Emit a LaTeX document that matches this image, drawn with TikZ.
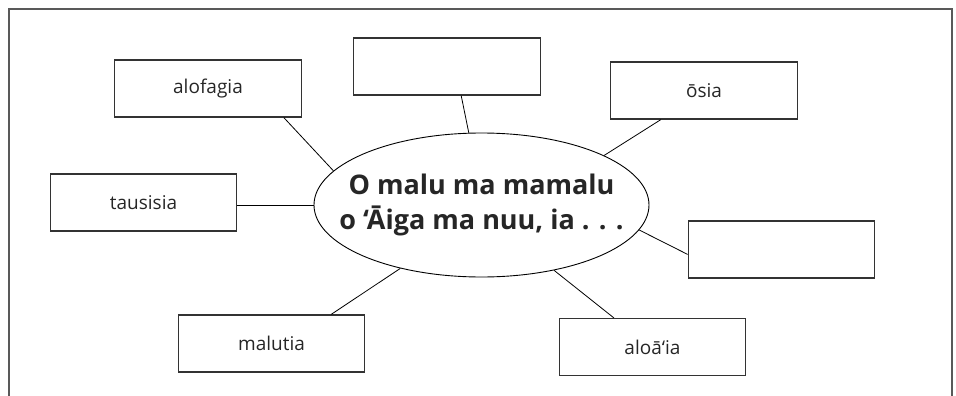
\documentclass[tikz,border=0pt]{standalone}
\usepackage{fontspec}
\setmainfont{Open Sans}
\usetikzlibrary{shapes.geometric}

\begin{document}
\begin{tikzpicture}
  [x=1pt,y=-1pt,
   wordbox/.style={rectangle,draw=black!80,line width=1.2pt,inner sep=0pt,
     minimum width=186.5pt,minimum height=57pt,text=black!85,font=\fontsize{19}{23}\selectfont},
   bubble/.style={ellipse,draw,line width=0.9pt,inner sep=0pt,minimum width=335pt,minimum height=144pt},
   link/.style={line width=0.8pt}]
  \useasboundingbox (0,0) rectangle (956,396);
  \draw[black!65,line width=2pt] (9,396) -- (9,9) -- (952,9) -- (952,396);

  \node[bubble] (centre) at (481.5,205) {};
  \node[align=center,text=black!85,font=\fontsize{27}{35}\selectfont\bfseries] (title) at (centre.center)
    {O malu ma mamalu\\o ‘Āiga ma nuu, ia . . .};

  \node[wordbox] (alofagia) at (208,88.5) {alofagia};
  \node[wordbox] (blanktop) at (447,66.5) {};
  \node[wordbox] (osia) at (704,90.5) {ōsia};
  \node[wordbox] (tausisia) at (143.5,202.5) {tausisia};
  \node[wordbox] (blankright) at (781.5,249.5) {};
  \node[wordbox] (malutia) at (271.5,343.5) {malutia};
  \node[wordbox] (aloaia) at (652.5,347) {aloā‘ia};

  \draw[link] (alofagia.-21) -- (centre.167);
  \draw[link] (blanktop.-64) -- (centre.100);
  \draw[link] (osia.-146) -- (centre.22);
  \draw[link] (centre.west) -- (centre.west -| tausisia.east);
  \draw[link] (blankright.183) -- (centre.-9);
  \draw[link] (malutia.26) -- (centre.-142);
  \draw[link] (aloaia.143) -- (centre.-42);
\end{tikzpicture}
\end{document}
